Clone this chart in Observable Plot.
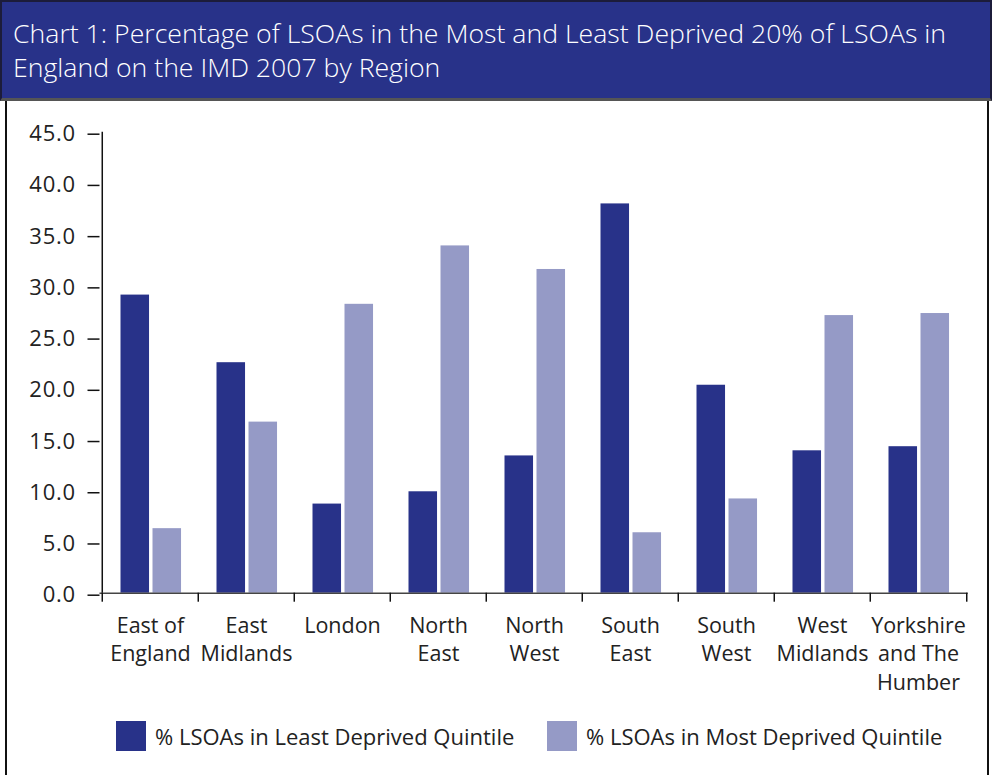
<!DOCTYPE html>
<html>
<head>
<meta charset="utf-8">
<script src="https://cdn.jsdelivr.net/npm/d3@7"></script>
<script src="https://cdn.jsdelivr.net/npm/@observablehq/plot@0.6"></script>
<style>
  html, body { margin: 0; padding: 0; background: #fff; }
  #wrap { position: relative; width: 992px; height: 775px; overflow: hidden; background: #fff; font-family: "Open Sans", "Noto Sans", sans-serif; color: #222; }
  #panel { position: absolute; left: 5px; top: 100px; width: 984px; height: 690px; border-left: 2px solid #111; border-right: 2px solid #111; box-sizing: border-box; }
  #title { position: absolute; left: 0; top: 0; width: 992px; height: 101px; background: #283289; box-sizing: border-box; border: 2px solid #1c1c3a; border-bottom: 3px solid #555; color: #fff; font-family: "Open Sans", "Noto Sans", sans-serif; font-weight: 300; font-size: 25px; line-height: 34px; padding: 14px 0 0 11px; }
  #title span { display: block; transform-origin: 0 50%; white-space: nowrap; width: max-content; height: 34px; }
  #chart { position: absolute; left: 0; top: 110px; }
  #legend { position: absolute; left: 0; top: 720px; width: 992px; font-size: 22px; color: #222; }
  .item { position: absolute; display: flex; align-items: center; height: 31px; }
  .sw { width: 30px; height: 30px; margin-right: 9px; }
</style>
</head>
<body>
<div id="wrap">
  <div id="panel"></div>
  <div id="title"><span id="t1">Chart 1: Percentage of LSOAs in the Most and Least Deprived 20% of LSOAs in</span><span id="t2">England on the IMD 2007 by Region</span></div>
  <div id="chart"></div>
  <div id="legend"></div>
</div>
<script>
// ---- data ----
const regions = ["East of England", "East Midlands", "London", "North East", "North West", "South East", "South West", "West Midlands", "Yorkshire and The Humber"];
const regionLabels = ["East of\nEngland", "East\nMidlands", "London", "North\nEast", "North\nWest", "South\nEast", "South\nWest", "West\nMidlands", "Yorkshire\nand The\nHumber"];
const seriesNames = ["% LSOAs in Least Deprived Quintile", "% LSOAs in Most Deprived Quintile"];
const leastDeprived = [29.1, 22.5, 8.7, 9.9, 13.4, 38.0, 20.3, 13.9, 14.3];
const mostDeprived = [6.3, 16.7, 28.2, 33.9, 31.6, 5.9, 9.2, 27.1, 27.3];
const yTicks = [0, 5, 10, 15, 20, 25, 30, 35, 40, 45];
const colors = ["#283289", "#959ac6"];

// ---- layout ----
const W = 992, H = 600;
const mL = 99.5, mR = 24.3, mT = 21.7, mB = 117.3;
const step = (W - mL - mR) / regions.length;
const barW = 29, gap = 3, padL = 18.5;

const rowsLeast = regions.map((r, i) => ({region: r, value: leastDeprived[i]}));
const rowsMost = regions.map((r, i) => ({region: r, value: mostDeprived[i]}));
const labelOf = new Map(regions.map((r, i) => [r, regionLabels[i]]));

const plot = Plot.plot({
  width: W, height: H,
  marginLeft: mL, marginRight: mR, marginTop: mT, marginBottom: mB,
  style: {fontFamily: "'Open Sans', 'Noto Sans', sans-serif", fontSize: "21px", color: "#222", background: "transparent", overflow: "visible"},
  x: {type: "band", domain: regions, paddingInner: 0, paddingOuter: 0},
  y: {domain: [0, 45]},
  marks: [
    Plot.barY(rowsLeast, {x: "region", y: "value", fill: colors[0], insetLeft: padL, insetRight: step - padL - barW}),
    Plot.barY(rowsMost, {x: "region", y: "value", fill: colors[1], insetLeft: padL + barW + gap, insetRight: step - padL - 2 * barW - gap}),
    Plot.ruleY([0], {stroke: "#444", strokeWidth: 1.5}),
    Plot.ruleX([regions[0]], {x: d => d, y1: 0, y2: 45, dx: -step / 2, stroke: "#111", strokeWidth: 1.5}),
    Plot.axisY({ticks: yTicks, tickSize: 12, tickPadding: 12, tickFormat: d3.format(".1f"), label: null, fontSize: 22, stroke: "#111", strokeWidth: 1.5, fill: "#222", dy: 2}),
    Plot.axisX({tickSize: 9, tickFormat: () => "", label: null, dx: -step / 2, stroke: "#111", strokeWidth: 1.5}),
    Plot.axisX({ticks: [regions[regions.length - 1]], tickSize: 9, tickFormat: () => "", label: null, dx: step / 2, stroke: "#111", strokeWidth: 1.5}),
    Plot.text(regions, {x: d => d, text: d => labelOf.get(d), frameAnchor: "bottom", lineAnchor: "top", dy: 19, lineHeight: 1.34, fontSize: 21.5, fill: "#222"})
  ]
});
document.getElementById("chart").appendChild(plot);
plot.querySelectorAll("g[aria-label='y-axis tick label'] text").forEach(t => t.style.letterSpacing = "0.8px");

// legend
const legend = document.getElementById("legend");
const legendX = [116, 547];
seriesNames.forEach((name, i) => {
  const item = document.createElement("div");
  item.className = "item";
  item.style.left = legendX[i] + "px";
  const sw = document.createElement("div");
  sw.className = "sw";
  sw.style.background = colors[i];
  const tx = document.createElement("span");
  tx.textContent = name;
  item.appendChild(sw); item.appendChild(tx);
  legend.appendChild(item);
});

// title fit (condensed face)
const t1 = document.getElementById("t1"), t2 = document.getElementById("t2");
const w1 = t1.getBoundingClientRect().width;
const s = 933 / w1;
t1.style.transform = `scaleX(${s})`;
t2.style.transform = `scaleX(${s})`;
</script>
</body>
</html>
